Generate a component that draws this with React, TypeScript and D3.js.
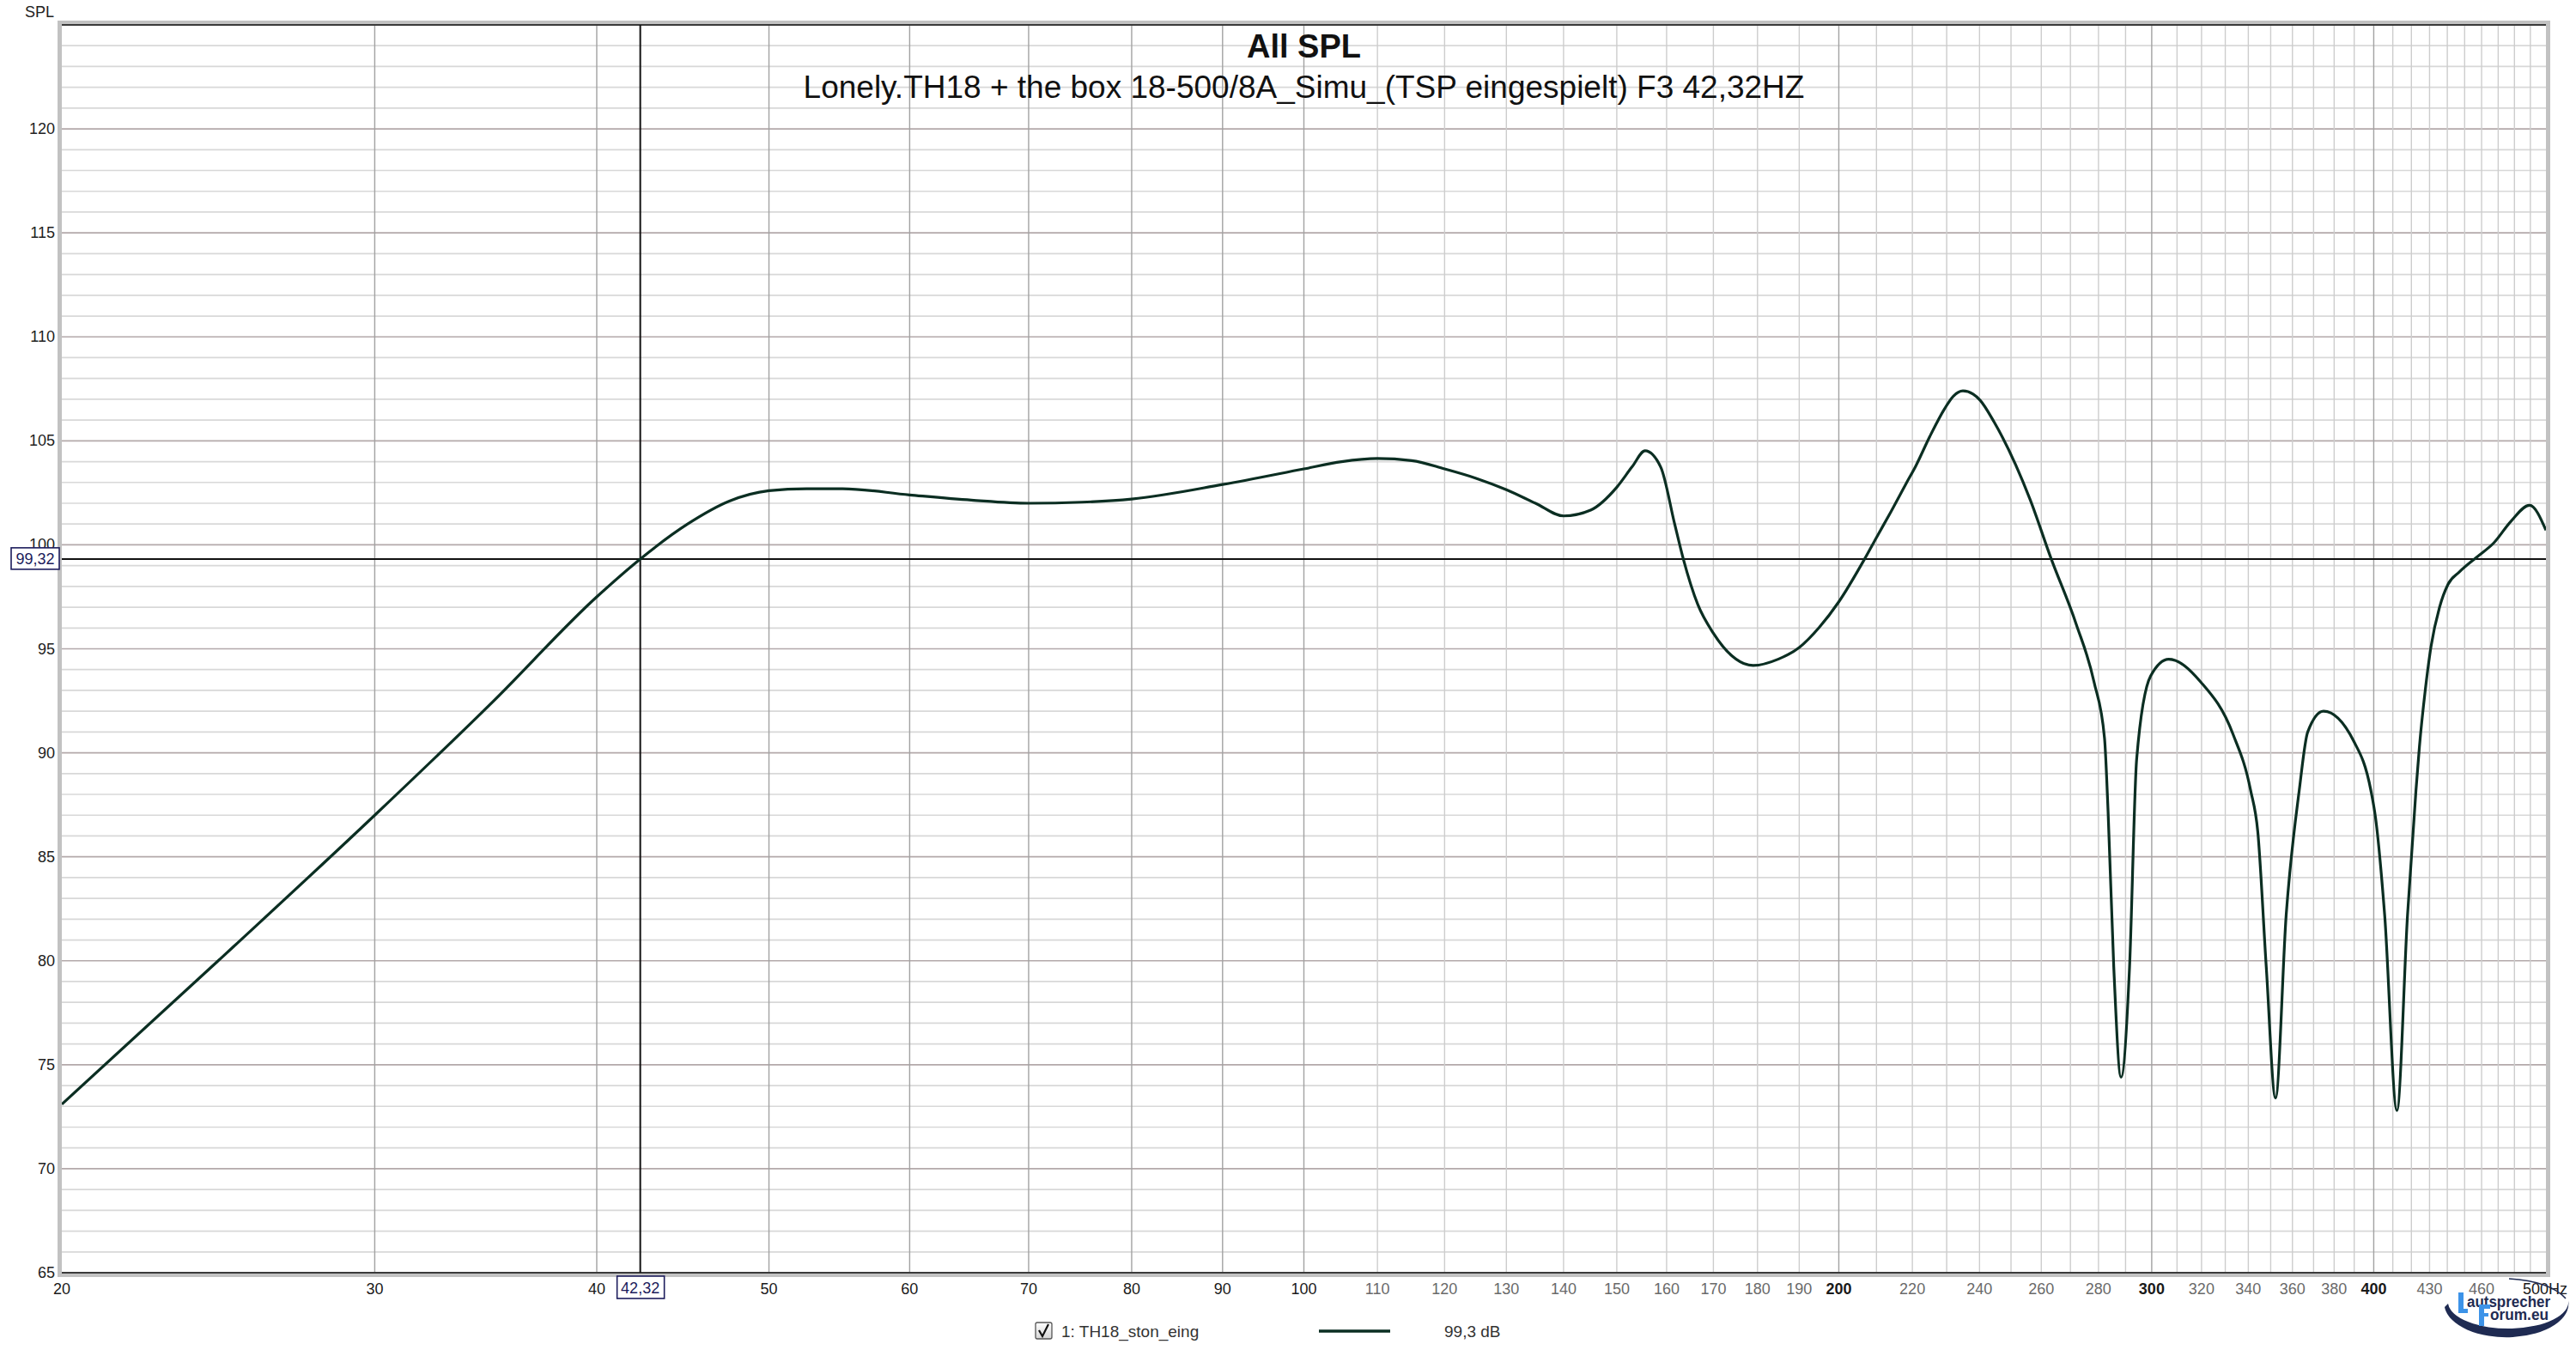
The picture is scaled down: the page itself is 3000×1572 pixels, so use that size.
import * as d3 from "d3";

const freqHz = [
  20, 25, 30, 35, 40, 42.32, 45, 47.5, 50, 52.5, 55, 60, 65, 70, 75, 80, 90, 100, 105, 110, 115, 120, 125, 130, 135,
  140, 145, 150, 153, 155.6, 158.8, 161.7, 163.5, 166.6, 170, 174.2, 179, 185, 190, 195, 200, 206.8, 210, 214, 218.4,
  221, 225, 229.4, 232, 234.9, 238, 240.2, 244.6, 256.2, 263.3, 272, 278.4, 282.2, 283.5, 285.6, 288.3, 291.5, 294.2,
  299.6, 306.7, 319.7, 333.3, 341, 344.2, 348, 352.2, 357.1, 363.2, 367.2, 374.8, 389.7, 398.5, 400.9, 405.7, 412.2,
  417.9, 422.5, 424.4, 427.6, 430.8, 435.6, 440.4, 447, 457, 467.4, 477.8, 489.5, 500,
];
const splDb = [
  73.1, 80.7, 87.0, 92.5, 97.5, 99.32, 101.0, 102.1, 102.6, 102.7, 102.7, 102.4, 102.15, 102.0, 102.05, 102.2, 102.9,
  103.65, 104.0, 104.15, 104.05, 103.65, 103.2, 102.65, 102.0, 101.39, 101.67, 102.77, 103.75, 104.52, 103.73, 100.98,
  99.32, 97.13, 95.75, 94.65, 94.2, 94.51, 95.06, 96.03, 97.26, 99.32, 100.35, 101.6, 103.0, 103.8, 105.2, 106.55,
  107.15, 107.4, 107.25, 106.95, 105.9, 102.2, 99.35, 96.2, 93.4, 90.7, 87.2, 79.7, 74.4, 79.7, 89.7, 93.7, 94.5, 93.4,
  90.9, 88.2, 86.2, 79.7, 73.4, 82.2, 88.2, 91.0, 92.0, 90.57, 88.2, 86.9, 82.2, 72.8, 82.2, 88.2, 90.3, 93.0, 95.1,
  97.0, 98.1, 98.7, 99.4, 100.1, 101.13, 101.9, 100.7,
];

const yTicks = [65, 70, 75, 80, 85, 90, 95, 100, 105, 110, 115, 120];
const xTickLabels = [
  20, 30, 40, 50, 60, 70, 80, 90, 100, 110, 120, 130, 140, 150, 160, 170, 180, 190, 200, 220, 240, 260, 280, 300, 320,
  340, 360, 380, 400, 430, 460, 500,
];
const boldTicks = [200, 300, 400];
const cursorHz = 42.32;
const cursorDb = 99.32;
const title = "All SPL";
const subtitle = "Lonely.TH18 + the box 18-500/8A_Simu_(TSP eingespielt) F3 42,32HZ";
const legendName = "1: TH18_ston_eing";
const legendValue = "99,3 dB";

const FONT = "'Liberation Sans', Arial, sans-serif";
const CURVE = "#0b2e22";

export default function App() {
  const width = 3000;
  const height = 1572;
  const plot = { left: 72, right: 2965, top: 29, bottom: 1482 };
  const x = d3.scaleLog().domain([20, 500]).range([plot.left, plot.right]);
  const y = d3.scaleLinear().domain([65, 125]).range([plot.bottom, plot.top]);
  const points = freqHz.map((f, i) => ({ f, v: splDb[i] }));
  const line = d3
    .line<{ f: number; v: number }>()
    .x((d) => x(d.f))
    .y((d) => y(d.v))
    .curve(d3.curveMonotoneX);
  const dbLines = d3.range(66, 125);
  const hzLines = d3.range(30, 500, 10);
  const cx = x(cursorHz);
  const cy = y(cursorDb);

  const tickColor = (f: number) => {
    if (boldTicks.includes(f) || f <= 100 || f === 500) return "#1a1a1a";
    return "#6a6a6a";
  };

  return (
    <svg
      width={width}
      height={height}
      viewBox={`0 0 ${width} ${height}`}
      style={{ position: "absolute", left: 0, top: 0, background: "#fff" }}
      fontFamily={FONT}
    >
      <defs>
        <clipPath id="plotClip">
          <rect x={plot.left} y={plot.top} width={plot.right - plot.left} height={plot.bottom - plot.top} />
        </clipPath>
        <linearGradient id="chk" x1="0" y1="0" x2="0" y2="1">
          <stop offset="0" stopColor="#ffffff" />
          <stop offset="1" stopColor="#d6d6d6" />
        </linearGradient>
      </defs>
      <rect width={width} height={height} fill="#fff" />

      {/* grid */}
      {dbLines.map((v) => (
        <line
          key={`h${v}`}
          x1={plot.left}
          x2={plot.right}
          y1={y(v)}
          y2={y(v)}
          stroke={v % 5 === 0 ? "#b3a9aa" : "#d8d8d8"}
          strokeWidth={1.7}
        />
      ))}
      {hzLines.map((f) => (
        <line
          key={`v${f}`}
          x1={x(f)}
          x2={x(f)}
          y1={plot.top}
          y2={plot.bottom}
          stroke={f <= 100 || boldTicks.includes(f) ? "#a2a2a2" : "#cdcdcd"}
          strokeWidth={1.4}
        />
      ))}

      {/* frame */}
      <rect
        x={plot.left - 2.5}
        y={plot.top - 2.5}
        width={plot.right - plot.left + 5}
        height={plot.bottom - plot.top + 5}
        fill="none"
        stroke="#c2c2c2"
        strokeWidth={5}
      />
      <line x1={plot.left} x2={plot.right} y1={plot.top} y2={plot.top} stroke="#3a3a3a" strokeWidth={2} />
      <line x1={plot.left} x2={plot.right} y1={plot.bottom} y2={plot.bottom} stroke="#3a3a3a" strokeWidth={2} />

      {/* cursor */}
      <line x1={cx} x2={cx} y1={plot.top} y2={plot.bottom} stroke="#111" strokeWidth={2} />
      <line x1={plot.left} x2={plot.right} y1={cy} y2={cy} stroke="#111" strokeWidth={2} />

      {/* curve */}
      <path d={line(points) ?? ""} fill="none" stroke={CURVE} strokeWidth={3.2} clipPath="url(#plotClip)" />

      {/* titles */}
      <text x={(plot.left + plot.right) / 2} y={67} textAnchor="middle" fontSize={38} fontWeight="bold" fill="#111">
        {title}
      </text>
      <text x={(plot.left + plot.right) / 2} y={114} textAnchor="middle" fontSize={37} fill="#111">
        {subtitle}
      </text>

      {/* y axis */}
      <text x={29} y={20} fontSize={18} fill="#222">
        SPL
      </text>
      {yTicks.map((v) => (
        <text key={v} x={64} y={y(v) + 6} textAnchor="end" fontSize={18} fill="#222">
          {v}
        </text>
      ))}
      <rect x={13} y={cy - 13} width={56} height={25} fill="#fff" stroke="#1c1c5c" strokeWidth={1.6} />
      <text x={41} y={cy + 6} textAnchor="middle" fontSize={18} fill="#1c1c5c">
        99,32
      </text>

      {/* x axis */}
      {xTickLabels.map((f) => (
        <text
          key={f}
          x={f === 500 ? 2990 : x(f)}
          y={1507}
          textAnchor={f === 500 ? "end" : "middle"}
          fontSize={18}
          fontWeight={boldTicks.includes(f) ? "bold" : "normal"}
          fill={tickColor(f)}
        >
          {f === 500 ? "500Hz" : f}
        </text>
      ))}
      <rect x={cx - 27} y={1486} width={55} height={26} fill="#fff" stroke="#1c1c5c" strokeWidth={1.6} />
      <text x={cx} y={1506} textAnchor="middle" fontSize={18} fill="#1c1c5c">
        42,32
      </text>

      {/* legend */}
      <rect x={1206} y={1540} width={19} height={19} rx={2} fill="url(#chk)" stroke="#555" strokeWidth={1.3} />
      <path d="M1210,1549 L1214,1556 L1221,1542" fill="none" stroke="#111" strokeWidth={2.2} />
      <text x={1236} y={1557} fontSize={19} fill="#333">
        {legendName}
      </text>
      <line x1={1536} x2={1619} y1={1550} y2={1550} stroke={CURVE} strokeWidth={3.5} />
      <text x={1682} y={1557} fontSize={19} fill="#333">
        {legendValue}
      </text>

      {/* forum logo */}
      <g>
        <path d="M2847,1522 A72,39 0 0 0 2991,1514 A70,31 0 0 1 2851,1518 Z" fill="#1f2b52" />
        <path d="M2922,1489 Q2970,1492 2988,1512" fill="none" stroke="#1f2b52" strokeWidth={1.6} />
        <rect x={2863} y={1505} width={6} height={24} fill="#3d93e8" />
        <rect x={2863} y={1524} width={11} height={5} fill="#3d93e8" />
        <text
          x={2873}
          y={1522}
          fontSize={18}
          fontWeight="bold"
          fill="#1f2b52"
          textLength={97}
          lengthAdjust="spacingAndGlyphs"
        >
          autsprecher
        </text>
        <rect x={2887} y={1519} width={6} height={25} fill="#3d93e8" />
        <rect x={2887} y={1519} width={13} height={5} fill="#3d93e8" />
        <rect x={2887} y={1529} width={11} height={4} fill="#3d93e8" />
        <text
          x={2900}
          y={1537}
          fontSize={18}
          fontWeight="bold"
          fill="#1f2b52"
          textLength={68}
          lengthAdjust="spacingAndGlyphs"
        >
          orum.eu
        </text>
      </g>
    </svg>
  );
}
